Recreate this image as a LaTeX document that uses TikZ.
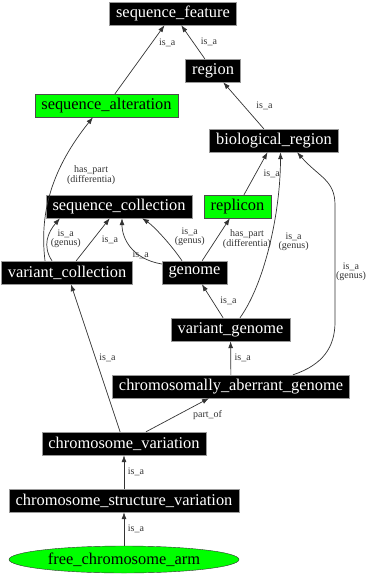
\documentclass[tikz,border=0pt]{standalone}
\usepackage{fontspec}
\setmainfont{Liberation Serif}
\usetikzlibrary{arrows.meta,shapes.geometric,positioning}

\begin{document}
\begin{tikzpicture}[
    x=1pt, y=1pt,
    term/.style={draw=gray!80, fill=black, text=white, rounded corners=0pt, minimum width=54pt, minimum height=23pt, inner xsep=6.5pt, inner ysep=0pt, align=center, font=\fontsize{16.4}{18}\selectfont},
    hit/.style={term, fill=green, text=black, draw=black!70},
    leaf/.style={draw=black!80, fill=green, ellipse, minimum width=230pt, minimum height=27pt, inner sep=0pt, font=\fontsize{16.4}{18}\selectfont},
    arr/.style={-{Latex[length=7pt, width=5pt]}, line width=0.7pt, black!80},
    lbl/.style={font=\fontsize{10}{9}\selectfont, align=center, inner sep=0pt}
]
\useasboundingbox (0,0) rectangle (373,-576);

% terms
\node[term] (sf)   at (173,-13.5)   {sequence\_feature};
\node[term] (reg)  at (213,-70.5)   {region};
\node[hit]  (salt) at (106.5,-105.5) {sequence\_alteration};
\node[term] (bio)  at (274,-140.5)  {biological\_region};
\node[term] (scol) at (119,-206.5)  {sequence\_collection};
\node[hit]  (rep)  at (237.5,-206.5) {replicon};
\node[term] (vcol) at (67,-272.5)   {variant\_collection};
\node[term] (gen)  at (194.5,-272.5) {genome};
\node[term] (vgen) at (230.5,-329.5) {variant\_genome};
\node[term] (cag)  at (231,-386.5)  {chromosomally\_aberrant\_genome};
\node[term] (cvar) at (124,-443.5)  {chromosome\_variation};
\node[term] (csv)  at (124,-500.5)  {chromosome\_structure\_variation};
\node[leaf] (fca)  at (124,-559.5)  {free\_chromosome\_arm};

% relations
\draw[arr] (reg) -- node[lbl, xshift=16pt] {is\_a} (sf);
\draw[arr] (salt) -- node[lbl, pos=.75, xshift=15pt] {is\_a} (sf);
\draw[arr] (bio) -- node[lbl, xshift=21pt] {is\_a} (reg);
\draw[arr] ([xshift=-22pt]vcol.north) .. controls +(-6,50) and +(-40,-50) .. node[lbl, pos=.6, xshift=34pt] {has\_part\\(differentia)} ([xshift=-13.5pt]salt.south);
\draw[arr] ([xshift=-15pt]vcol.north) .. controls +(-10,15) and +(-12,-14) .. node[lbl, xshift=18pt] {is\_a\\(genus)} ([xshift=-59pt]scol.south);
\draw[arr] (vcol) -- node[lbl, xshift=17pt] {is\_a} (scol);
\draw[arr] ([yshift=8.5pt]gen.west) .. controls +(-30,5) and +(0,-20) .. node[lbl, pos=.45, xshift=8pt, yshift=-6pt] {is\_a} ([xshift=3pt]scol.south);
\draw[arr] ([xshift=-12.5pt]gen.north) .. controls +(-10,15) and +(12,-8) .. node[lbl, xshift=27pt] {is\_a\\(genus)} ([xshift=23pt]scol.south);
\draw[arr] (gen) -- node[lbl, xshift=31pt] {has\_part\\(differentia)} (rep);
\draw[arr] (rep) -- node[lbl, xshift=16pt] {is\_a} (bio);
\draw[arr] ([xshift=9.5pt]vgen.north) .. controls +(25,35) and +(0,-60) .. node[lbl, pos=.5, xshift=24pt, yshift=3pt] {is\_a\\(genus)} ([xshift=6.5pt]bio.south);
\draw[arr] (vgen) -- node[lbl, xshift=16pt] {is\_a} (gen);
\draw[arr] ([xshift=62pt]cag.north) .. controls +(30,10) and +(0,-25) .. (335,-322)
    -- node[lbl, pos=.43, xshift=16pt] {is\_a\\(genus)} (335,-205)
    .. controls +(0,25) and +(22,-25) .. ([xshift=23pt]bio.south);
\draw[arr] (cag) -- node[lbl, xshift=12pt] {is\_a} (vgen);
\draw[arr] (cvar) -- node[lbl, xshift=12pt] {is\_a} (vcol);
\draw[arr] (cvar) -- node[lbl, xshift=30pt] {part\_of} (cag);
\draw[arr] (csv) -- node[lbl, xshift=12pt] {is\_a} (cvar);
\draw[arr] (fca) -- node[lbl, xshift=12pt] {is\_a} (csv);
\end{tikzpicture}
\end{document}
